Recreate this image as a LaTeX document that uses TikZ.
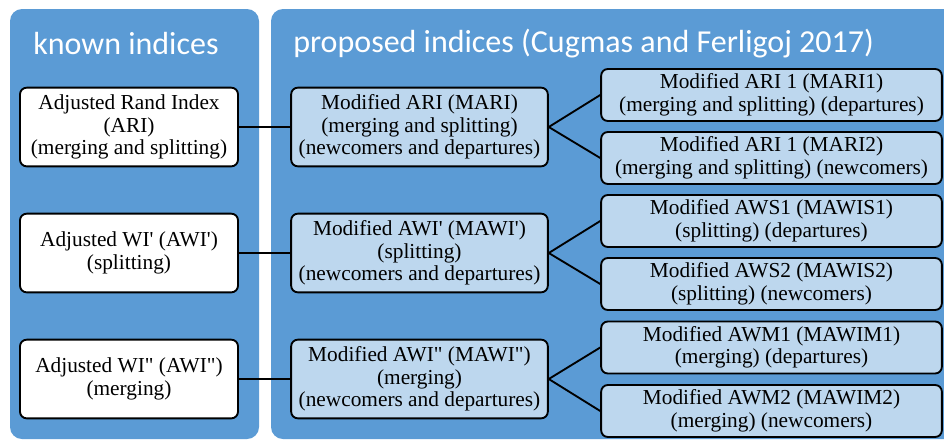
\documentclass[tikz,border=0pt]{standalone}
\usepackage{fontspec}
\setmainfont{Liberation Serif}
\newfontfamily\titlefont{Carlito}
\definecolor{panelblue}{HTML}{5B9BD5}
\definecolor{boxblue}{HTML}{BDD7EE}
\newcommand{\sq}{\textquotesingle}
\newcommand{\dq}{\textquotedbl}
\tikzstyle{panel}=[fill=panelblue,rounded corners=9pt]
\tikzstyle{title}=[anchor=west,text=white,inner sep=0pt,font=\titlefont\fontsize{24}{28}\selectfont]
\tikzstyle{link}=[line width=1.4pt,draw=black]

\begin{document}
\begin{tikzpicture}[x=0.75pt,y=-0.75pt]
\tikzstyle{known}=[shape=rectangle,rounded corners=5pt,draw=black,line width=1.4pt,fill=white,align=center,inner sep=1pt,minimum width=163.5pt,minimum height=59pt,font=\fontsize{16}{16.9}\selectfont]
\tikzstyle{proposed}=[known,fill=boxblue,minimum width=192.5pt]
\tikzstyle{variant}=[known,fill=boxblue,minimum width=255.5pt,minimum height=39pt]
\useasboundingbox (0,0) rectangle (944,440);
\clip (0,0) rectangle (944,440);
% panels
\fill[panel] (10,9) rectangle (259,439);
\fill[panel] (271,9) rectangle (975,439);
\node[title] (t1) at (33,44) {known indices};
\node[title] (t2) at (293,44) {proposed indices (Cugmas and Ferligoj 2017)};
% known indices
\node[known] (k1) at (129,127) {Adjusted Rand Index\\(ARI)\\(merging and splitting)};
\node[known] (k2) at (129,253) {Adjusted WI\sq{} (AWI\sq)\\(splitting)};
\node[known] (k3) at (129,379) {Adjusted WI\dq{} (AWI\dq)\\(merging)};
% proposed indices
\node[proposed] (p1) at (419.5,127) {Modified ARI (MARI)\\(merging and splitting)\\(newcomers and departures)};
\node[proposed] (p2) at (419.5,253) {Modified AWI\sq{} (MAWI\sq)\\(splitting)\\(newcomers and departures)};
\node[proposed] (p3) at (419.5,379) {Modified AWI\dq{} (MAWI\dq)\\(merging)\\(newcomers and departures)};
% variants
\node[variant] (v1) at (771.5,95) {Modified ARI 1 (MARI1)\\(merging and splitting) (departures)};
\node[variant] (v2) at (771.5,158) {Modified ARI 1 (MARI2)\\(merging and splitting) (newcomers)};
\node[variant] (v3) at (771.5,221) {Modified AWS1 (MAWIS1)\\(splitting) (departures)};
\node[variant] (v4) at (771.5,284) {Modified AWS2 (MAWIS2)\\(splitting) (newcomers)};
\node[variant] (v5) at (771.5,347.5) {Modified AWM1 (MAWIM1)\\(merging) (departures)};
\node[variant] (v6) at (771.5,411) {Modified AWM2 (MAWIM2)\\(merging) (newcomers)};
% connectors
\draw[link] (k1) -- (p1);
\draw[link] (k2) -- (p2);
\draw[link] (k3) -- (p3);
\draw[link] (p1.east) -- (v1.west) (p1.east) -- (v2.west);
\draw[link] (p2.east) -- (v3.west) (p2.east) -- (v4.west);
\draw[link] (p3.east) -- (v5.west) (p3.east) -- (v6.west);
\end{tikzpicture}
\end{document}
